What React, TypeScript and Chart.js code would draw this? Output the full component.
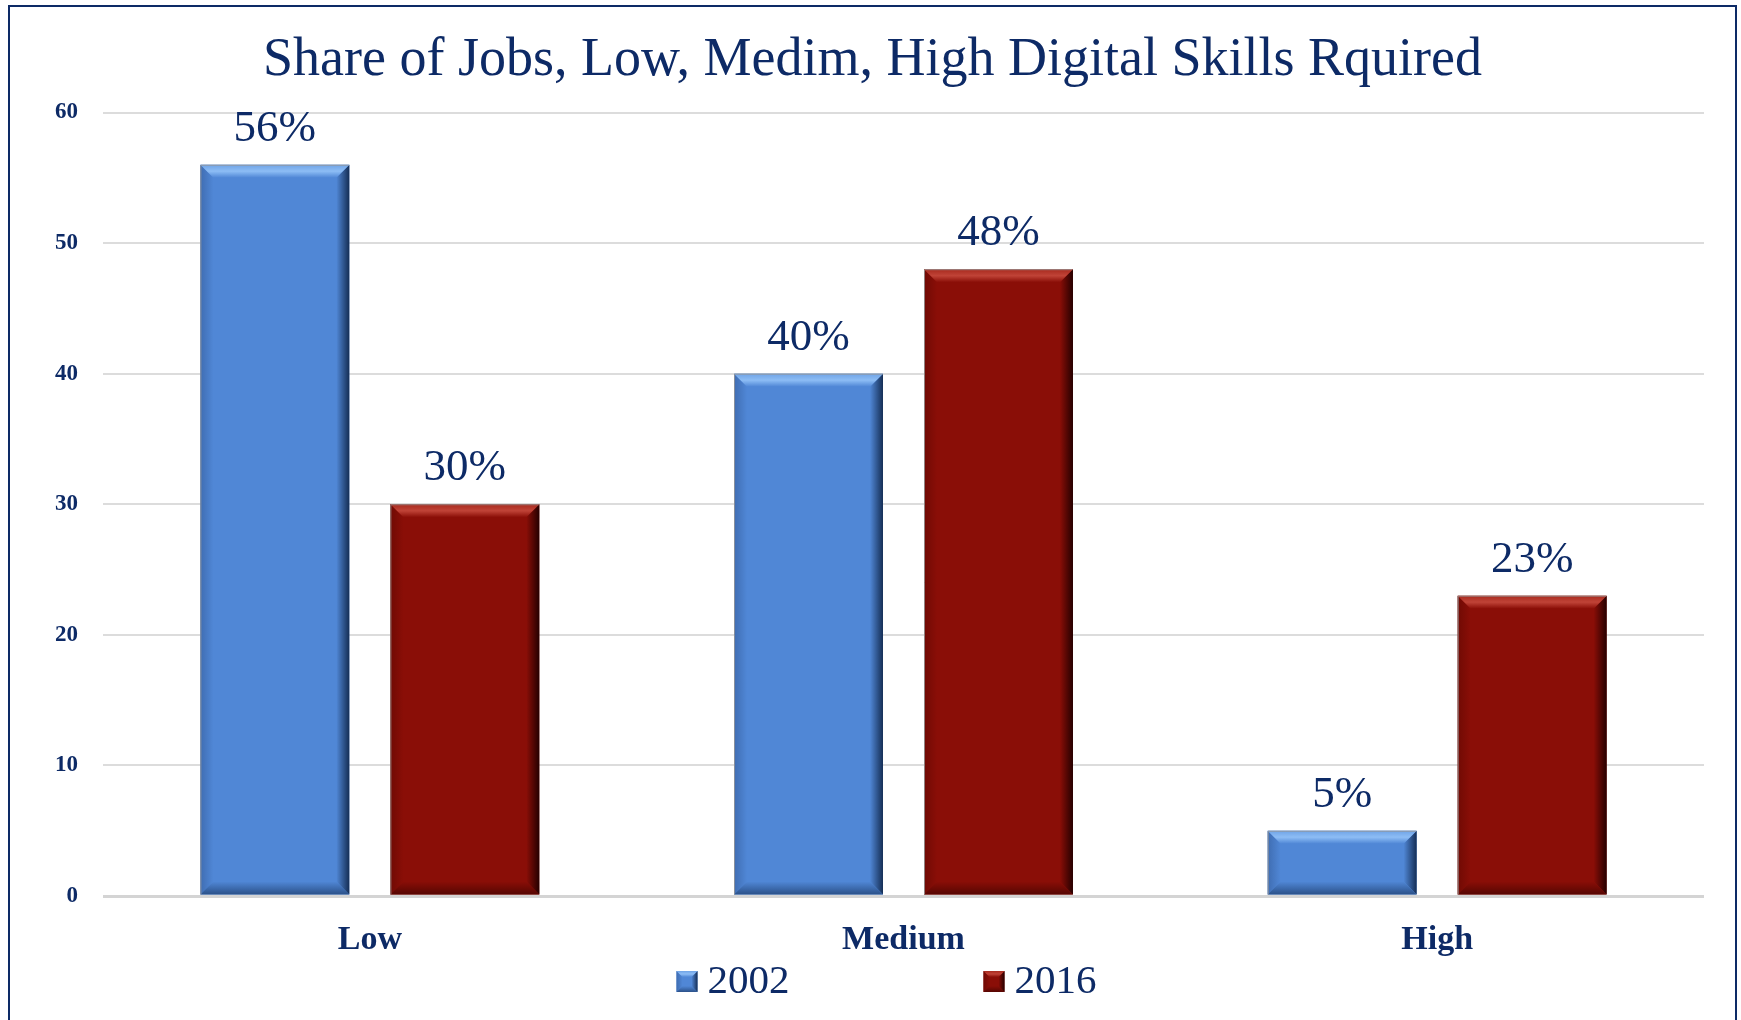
import React, { useEffect, useRef } from "react";
import { Chart, registerables } from "chart.js";

Chart.register(...registerables);

// ---- Data ----
const categories = ["Low", "Medium", "High"];
const seriesLabels = ["2002", "2016"];
const values2002 = [56, 40, 5];
const values2016 = [30, 48, 23];
const yTickValues = [0, 10, 20, 30, 40, 50, 60];
const chartTitle = "Share of Jobs, Low, Medim, High Digital Skills Rquired";

// ---- Styles ----
const NAVY = "#0d2a66";
const BLUE = "#5087d6";
const RED = "#8a0e07";
const FONT = "'Liberation Serif', 'Times New Roman', serif";

const PALETTES = [
  {
    base: BLUE,
    topEdge: "#6fa3e6",
    topHi: "#8dbdf5",
    leftEdge: "#3f6db2",
    rightEdge: "#152e55",
    bottomEdge: "#2b5189",
  },
  {
    base: RED,
    topEdge: "#a82a1e",
    topHi: "#c04337",
    leftEdge: "#700a04",
    rightEdge: "#250000",
    bottomEdge: "#560602",
  },
];

function poly(ctx: CanvasRenderingContext2D, pts: number[][], fill: any) {
  ctx.beginPath();
  ctx.moveTo(pts[0][0], pts[0][1]);
  for (let i = 1; i < pts.length; i++) ctx.lineTo(pts[i][0], pts[i][1]);
  ctx.closePath();
  ctx.fillStyle = fill;
  ctx.fill();
}

function drawBevel(
  ctx: CanvasRenderingContext2D,
  l: number,
  t: number,
  r: number,
  bt: number,
  b: number,
  pal: any,
  outline: boolean
) {
  ctx.save();
  let g = ctx.createLinearGradient(l, 0, l + b, 0);
  g.addColorStop(0, pal.leftEdge);
  g.addColorStop(1, pal.base);
  poly(ctx, [[l, t], [l + b, t + b], [l + b, bt - b], [l, bt]], g);

  g = ctx.createLinearGradient(r - b, 0, r, 0);
  g.addColorStop(0, pal.base);
  g.addColorStop(1, pal.rightEdge);
  poly(ctx, [[r, t], [r, bt], [r - b, bt - b], [r - b, t + b]], g);

  g = ctx.createLinearGradient(0, bt - b, 0, bt);
  g.addColorStop(0, pal.base);
  g.addColorStop(1, pal.bottomEdge);
  poly(ctx, [[l, bt], [r, bt], [r - b, bt - b], [l + b, bt - b]], g);

  g = ctx.createLinearGradient(0, t, 0, t + b);
  g.addColorStop(0, pal.topEdge);
  g.addColorStop(0.5, pal.topHi);
  g.addColorStop(1, pal.base);
  poly(ctx, [[l, t], [r, t], [r - b, t + b], [l + b, t + b]], g);

  if (outline) {
    ctx.strokeStyle = "rgba(150,150,150,0.85)";
    ctx.lineWidth = 1;
    ctx.beginPath();
    ctx.moveTo(l + 0.5, bt);
    ctx.lineTo(l + 0.5, t + 0.5);
    ctx.lineTo(r - 0.5, t + 0.5);
    ctx.stroke();
  }
  ctx.restore();
}

const bevelPlugin = {
  id: "bevelBars",
  afterDatasetsDraw(chart: any) {
    const ctx = chart.ctx;
    chart.data.datasets.forEach((_ds: any, di: number) => {
      const meta = chart.getDatasetMeta(di);
      const pal = PALETTES[di];
      meta.data.forEach((el: any) => {
        const p = el.getProps(["x", "y", "base", "width"], true);
        const l = p.x - p.width / 2;
        const r = p.x + p.width / 2;
        const t = Math.min(p.y, p.base);
        const bt = Math.max(p.y, p.base);
        const b = Math.min(13, (bt - t) / 2, p.width / 2);
        drawBevel(ctx, l, t, r, bt, b, pal, true);
      });
    });
  },
};

const valueLabelPlugin = {
  id: "valueLabels",
  afterDatasetsDraw(chart: any) {
    const ctx = chart.ctx;
    ctx.save();
    ctx.font = `normal 45px ${FONT}`;
    ctx.fillStyle = NAVY;
    ctx.textAlign = "center";
    ctx.textBaseline = "alphabetic";
    chart.data.datasets.forEach((ds: any, di: number) => {
      const meta = chart.getDatasetMeta(di);
      meta.data.forEach((el: any, i: number) => {
        const p = el.getProps(["x", "y"], true);
        ctx.fillText(`${ds.data[i]}%`, p.x, p.y - 24);
      });
    });
    ctx.restore();
  },
};

const titlePlugin = {
  id: "customTitle",
  afterDraw(chart: any) {
    const ctx = chart.ctx;
    ctx.save();
    ctx.font = `normal 54px ${FONT}`;
    ctx.fillStyle = NAVY;
    ctx.textAlign = "center";
    ctx.textBaseline = "alphabetic";
    ctx.fillText(chartTitle, chart.width / 2, 68);
    ctx.restore();
  },
};

const customLegendPlugin = {
  id: "customLegend",
  afterDraw(chart: any) {
    const ctx = chart.ctx;
    ctx.save();
    ctx.font = `normal 41px ${FONT}`;
    ctx.textBaseline = "alphabetic";
    ctx.textAlign = "left";
    const boxW = 21;
    const boxH = 21;
    const gap = 10;
    const itemGap = 194;
    const labels = chart.data.datasets.map((d: any) => d.label);
    const widths = labels.map((t: string) => ctx.measureText(t).width);
    let total = 0;
    widths.forEach((w: number, i: number) => {
      total += boxW + gap + w + (i < widths.length - 1 ? itemGap : 0);
    });
    const baseline = 986;
    const boxTop = 964;
    let x = chart.width / 2 + 14 - total / 2;
    labels.forEach((t: string, i: number) => {
      const pal = PALETTES[i];
      ctx.fillStyle = pal.base;
      ctx.fillRect(x, boxTop, boxW, boxH);
      drawBevel(ctx, x, boxTop, x + boxW, boxTop + boxH, 6, pal, false);
      ctx.fillStyle = NAVY;
      ctx.fillText(t, x + boxW + gap, baseline);
      x += boxW + gap + widths[i] + itemGap;
    });
    ctx.restore();
  },
};

export default function App() {
  const canvasRef = useRef<HTMLCanvasElement | null>(null);

  useEffect(() => {
    if (!canvasRef.current) return;
    const chart = new Chart(canvasRef.current, {
      type: "bar",
      data: {
        labels: categories,
        datasets: [
          {
            label: seriesLabels[0],
            data: values2002,
            backgroundColor: BLUE,
            categoryPercentage: 0.712,
            barPercentage: 0.784,
          },
          {
            label: seriesLabels[1],
            data: values2016,
            backgroundColor: RED,
            categoryPercentage: 0.712,
            barPercentage: 0.784,
          },
        ],
      },
      options: {
        responsive: false,
        animation: false,
        layout: { padding: { left: 0, right: 31, top: 105.5, bottom: 44 } },
        plugins: {
          legend: { display: false },
          tooltip: { enabled: false },
          title: { display: false },
        },
        scales: {
          x: {
            grid: { display: false, drawTicks: false },
            border: { display: false },
            ticks: {
              color: NAVY,
              font: { family: FONT, size: 34, weight: "bold", lineHeight: 1.2 },
              padding: 24,
            },
            afterFit: (s: any) => {
              s.height = 80;
            },
          },
          y: {
            min: 0,
            max: 60,
            afterBuildTicks: (s: any) => {
              s.ticks = yTickValues.map((v) => ({ value: v }));
            },
            ticks: {
              color: NAVY,
              font: { family: FONT, size: 23, weight: "bold" },
              padding: 25,
            },
            grid: {
              drawTicks: false,
              color: (c: any) => (c.tick && c.tick.value === 0 ? "#d4d4d4" : "#dcdcdc"),
              lineWidth: (c: any) => (c.tick && c.tick.value === 0 ? 3 : 2),
            },
            border: { display: false },
            afterFit: (s: any) => {
              s.width = 93;
            },
          },
        },
      } as any,
      plugins: [bevelPlugin, valueLabelPlugin, titlePlugin, customLegendPlugin],
    });
    return () => chart.destroy();
  }, []);

  return (
    <div
      style={{
        position: "absolute",
        left: 8,
        top: 5,
        width: 1729,
        height: 1015,
        boxSizing: "border-box",
        border: "2px solid #0d2a66",
        borderBottom: "none",
        background: "#ffffff",
      }}
    >
      <canvas
        ref={canvasRef}
        width={1725}
        height={1013}
        style={{ display: "block", width: 1725, height: 1013 }}
      />
    </div>
  );
}
